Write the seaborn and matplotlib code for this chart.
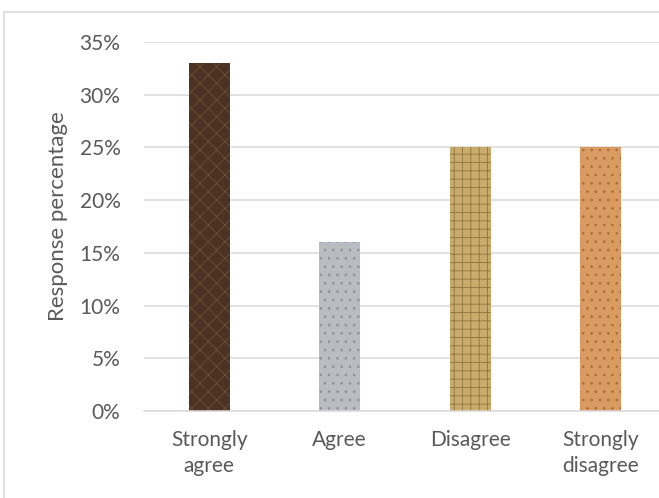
import matplotlib
matplotlib.use("Agg")
import matplotlib.pyplot as plt
import matplotlib.patches as mpatches
import seaborn as sns
import pandas as pd

categories = ["Strongly\nagree", "Agree", "Disagree", "Strongly\ndisagree"]
values = [0.33, 0.16, 0.25, 0.25]
colors = ["#4b3222", "#b9bcc2", "#c9ab6c", "#d99b62"]
hatch_colors = ["#6e5038", "#8a8e96", "#8e7440", "#a86a38"]
hatches = ["xx", "..", "++", ".."]
y_ticks = [0, 0.05, 0.10, 0.15, 0.20, 0.25, 0.30, 0.35]
y_labels = ["0%", "5%", "10%", "15%", "20%", "25%", "30%", "35%"]

sns.set_theme(style="white")
plt.rcParams["font.family"] = ["Lato", "DejaVu Sans"]
plt.rcParams["hatch.linewidth"] = 0.6

df = pd.DataFrame({"cat": categories, "val": values})

fig = plt.figure(figsize=(6.59, 4.98), dpi=100)
ax = fig.add_axes([144/659, 1-411/498, 522/659, (411-42)/498])

sns.barplot(data=df, x="cat", y="val", hue="cat", palette=colors,
            legend=False, width=0.315, ax=ax, saturation=1)

for bar, hc, h in zip(ax.patches, hatch_colors, hatches):
    bar.set_hatch(h)
    bar.set_edgecolor(hc)
    bar.set_linewidth(0)

ax.set_ylim(0, 0.35)
ax.set_xlim(-0.5, 3.5)
ax.set_yticks(y_ticks)
ax.set_yticklabels(y_labels)
ax.yaxis.grid(True, color="#d9d9d9", linewidth=1.1)
ax.set_axisbelow(True)
for s in ["top", "right", "left"]:
    ax.spines[s].set_visible(False)
ax.spines["bottom"].set_color("#d9d9d9")
ax.spines["bottom"].set_linewidth(1.1)
ax.tick_params(axis="both", length=0, labelsize=15, labelcolor="#595959")
ax.tick_params(axis="y", pad=17)
ax.tick_params(axis="x", pad=14)
for t in ax.get_xticklabels():
    t.set_linespacing(1.35)
ax.set_xlabel("")
ax.set_ylabel("Response percentage", fontsize=16, color="#595959")
ax.yaxis.set_label_coords(-0.146, 0.528)

border = mpatches.Rectangle((4/659, -0.01), 1.0, 1-12/498+0.01, transform=fig.transFigure,
                            fill=False, edgecolor="#d9d9d9", linewidth=1.2)
fig.patches.append(border)

fig.savefig("out.png", dpi=100)
